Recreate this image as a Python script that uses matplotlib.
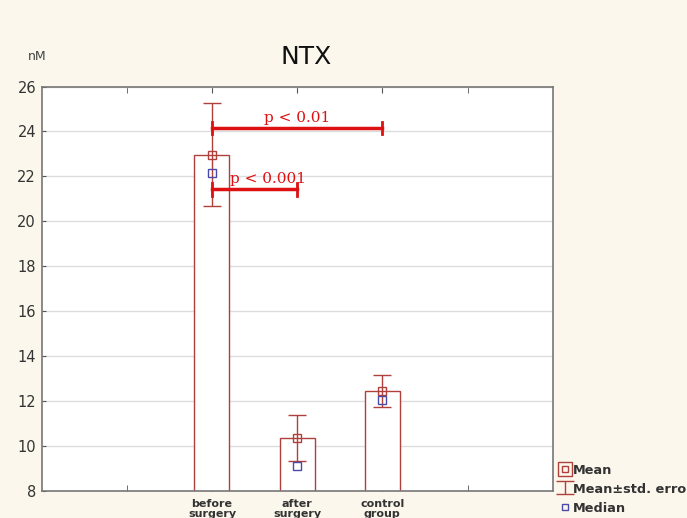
import matplotlib.pyplot as plt
from matplotlib.lines import Line2D
from matplotlib.legend_handler import HandlerTuple

# Dane NTX (nM)
groups = ['before\nsurgery', 'after\nsurgery', 'control\ngroup']
positions = [2, 3, 4]
means = [22.97, 10.35, 12.45]
std_err = [2.28, 1.02, 0.73]
medians = [22.15, 9.12, 12.07]

# p-values: (od grupy, do grupy, poziom, tekst)
sig_from = [2, 2]
sig_to = [4, 3]
sig_level = [24.15, 21.42]
sig_text = ['p < 0.01', 'p < 0.001']

bg = '#fbf7ec'
bar_col = '#b0403c'
med_col = '#4a4aa8'
sig_col = '#dd1111'

fig = plt.figure(figsize=(6.87, 5.18), dpi=100, facecolor=bg)
ax = fig.add_axes([0.0605, 0.052, 0.744, 0.781])

ax.bar(positions, means, width=0.41, bottom=0, color='white',
       edgecolor=bar_col, linewidth=1.0, zorder=2)
eb = ax.errorbar(positions, means, yerr=std_err, fmt='none', ecolor=bar_col,
                 elinewidth=1.0, capsize=6.5, capthick=1.0, zorder=3)
ax.plot(positions, means, 's', ms=6, mfc='none', mec=bar_col, mew=1.0, zorder=4)
ax.plot(positions, medians, 's', ms=6, mfc='none', mec=med_col, mew=1.0, zorder=4)

# linie istotnosci
for x0, x1, y, txt in zip(sig_from, sig_to, sig_level, sig_text):
    ax.plot([x0, x1], [y, y], color=sig_col, lw=2.5, zorder=5)
    ax.plot([x0, x0], [y - 0.28, y + 0.28], color=sig_col, lw=2, zorder=5)
    ax.plot([x1, x1], [y - 0.28, y + 0.28], color=sig_col, lw=2, zorder=5)
ax.text(3.0, sig_level[0] + 0.15, sig_text[0], color=sig_col, ha='center', va='bottom',
        fontsize=11, family='DejaVu Serif', zorder=6)
ax.text(2.66, sig_level[1] + 0.15, sig_text[1], color=sig_col, ha='center', va='bottom',
        fontsize=11, family='DejaVu Serif', zorder=6)

ax.set_xlim(0, 6)
ax.set_ylim(8, 26)
ax.set_yticks(range(8, 27, 2))
ax.set_xticks(positions)
ax.set_xticklabels(groups, fontsize=8, fontweight='bold', color='#333333', linespacing=0.95)
ax.set_xticks([1, 5], minor=True)
ax.tick_params(axis='x', which='both', direction='in', top=True, length=4, color='#555555', pad=6)
ax.tick_params(axis='y', direction='in', length=3, labelsize=10.5, color='#555555',
               labelcolor='#333333', pad=4)
ax.yaxis.grid(True, color='#dddddd', lw=1.0, zorder=0)
ax.set_axisbelow(True)
for s in ax.spines.values():
    s.set_color('#777777')
    s.set_linewidth(1.2)

fig.text(0.445, 0.89, 'NTX', fontsize=18, ha='center', va='center', color='#111111')
fig.text(0.054, 0.89, 'nM', fontsize=9, ha='center', va='center', color='#444444')

# legenda
h_mean = Line2D([], [], marker='s', ms=5, mfc='none', mec=bar_col, ls='none')
h_mean2 = Line2D([], [], marker='s', ms=10, mfc='none', mec=bar_col, ls='none')
h_med = Line2D([], [], marker='s', ms=5, mfc='none', mec=med_col, ls='none')
leg = fig.legend([(h_mean2, h_mean), eb, h_med],
                 ['Mean', 'Mean\u00b1std. erro', 'Median'],
                 handler_map={tuple: HandlerTuple(ndivide=None, pad=-1)},
                 loc='lower left', bbox_to_anchor=(0.797, -0.016), frameon=False,
                 handlelength=0.9, handleheight=1.0, handletextpad=0.2, labelspacing=0.42,
                 prop={'size': 9.3, 'weight': 'bold'})
for t in leg.get_texts():
    t.set_color('#333333')

fig.savefig('out.png', dpi=100, facecolor=bg)
